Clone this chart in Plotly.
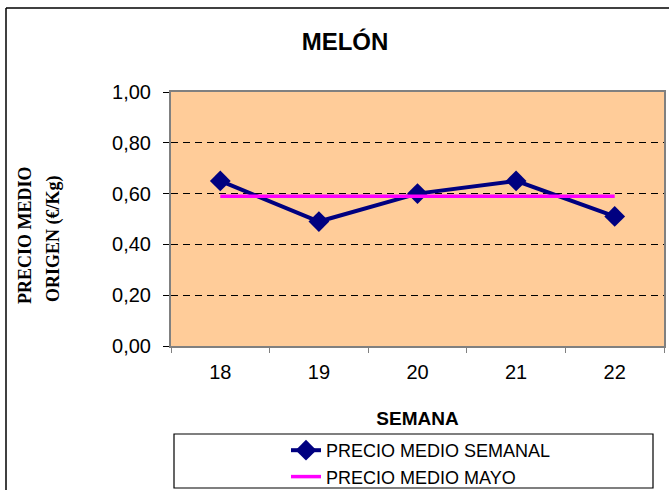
import plotly.graph_objects as go

semanas = ['18', '19', '20', '21', '22']
precio_semanal = [0.65, 0.49, 0.60, 0.65, 0.51]
precio_mayo = [0.59, 0.59, 0.59, 0.59, 0.59]

# plot area in pixels: left 171, right 664, top 92, bottom 346
L, R, T, B = 171, 664, 92, 346
W, H = 669, 490


def px(x):
    return (x - L) / (R - L)


def py(y):
    return (B - y) / (B - T)


fig = go.Figure()

fig.add_trace(go.Scatter(
    x=semanas, y=precio_semanal,
    name='PRECIO MEDIO SEMANAL',
    mode='lines+markers',
    line=dict(color='#000080', width=4),
    marker=dict(symbol='diamond', size=16, color='#000080'),
))

fig.add_trace(go.Scatter(
    x=semanas, y=precio_mayo,
    name='PRECIO MEDIO MAYO',
    mode='lines',
    line=dict(color='#FF00FF', width=3.5),
))

fig.update_layout(
    width=W, height=H,
    margin=dict(l=L, r=W - R, t=T, b=H - B, autoexpand=False),
    paper_bgcolor='white',
    plot_bgcolor='#FFCC99',
    separators=',.',
    font=dict(family='Arial, Liberation Sans', color='black', size=20),
    title=dict(text='<b>MELÓN</b>', xref='paper', x=px(345), xanchor='center',
               yref='container', y=1 - 42 / H, yanchor='middle',
               font=dict(size=24)),
    xaxis=dict(
        type='category',
        range=[-0.5, len(semanas) - 0.5],
        tickson='boundaries',
        ticks='outside', ticklen=5, tickcolor='#808080',
        ticklabelstandoff=7,
        showline=True, linecolor='#808080', linewidth=2, mirror=True,
        showgrid=False,
        tickfont=dict(size=20),
        title=dict(text='<b>SEMANA</b>', font=dict(size=19), standoff=30),
    ),
    yaxis=dict(
        range=[0, 1], dtick=0.2, tickformat='.2f',
        ticks='outside', ticklen=6, tickcolor='black',
        ticklabelstandoff=8,
        showline=True, linecolor='#808080', linewidth=2, mirror=True,
        showgrid=True, gridcolor='black', griddash='7px,5px', gridwidth=1,
        zeroline=False,
        tickfont=dict(size=20),
    ),
    showlegend=True,
    legend=dict(
        x=px(286), xanchor='left',
        y=py(432), yanchor='top',
        bgcolor='rgba(0,0,0,0)',
        font=dict(size=18),
        tracegroupgap=0,
        itemwidth=30,
    ),
    shapes=[
        # outer chart frame (only left and top edges fall inside the picture)
        dict(type='line', xref='paper', yref='paper',
             x0=px(6), x1=px(6), y0=py(H), y1=py(8),
             line=dict(color='black', width=1.5)),
        dict(type='line', xref='paper', yref='paper',
             x0=px(6), x1=px(669), y0=py(8), y1=py(8),
             line=dict(color='black', width=1.5)),
        # legend box
        dict(type='rect', xref='paper', yref='paper',
             x0=px(174), x1=px(653), y0=py(488), y1=py(434),
             line=dict(color='black', width=1.2)),
    ],
    annotations=[
        dict(text='<b>PRECIO MEDIO</b>',
             xref='paper', yref='paper', x=px(25), y=py(235),
             xanchor='center', yanchor='middle', textangle=-90,
             showarrow=False,
             font=dict(family='Liberation Serif, Times New Roman', size=18)),
        dict(text='<b>ORIGEN (€/Kg)</b>',
             xref='paper', yref='paper', x=px(53), y=py(239),
             xanchor='center', yanchor='middle', textangle=-90,
             showarrow=False,
             font=dict(family='Liberation Serif, Times New Roman', size=18)),
    ],
)

fig.write_html('out.html', config={'displayModeBar': False},
               post_script="document.body.style.margin='0px';")
